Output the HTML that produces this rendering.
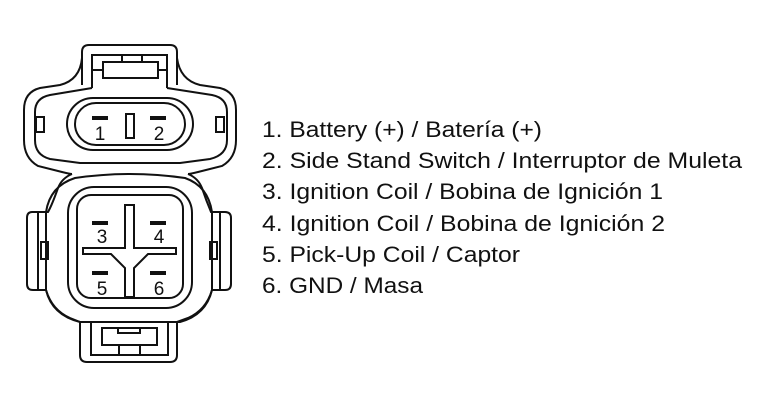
<!DOCTYPE html>
<html><head><meta charset="utf-8"><style>
html,body{margin:0;padding:0;background:#fff;}
svg{display:block;}
text{font-family:"Liberation Sans",Arial,sans-serif;fill:#111;}
</style></head><body>
<svg width="770" height="401" viewBox="0 0 770 401" xmlns="http://www.w3.org/2000/svg">
<g fill="none" stroke="#111" stroke-width="2">
<path d="M82,85 L82,52 Q82,45 89,45 L170,45 Q177,45 177,52 L177,85"/>
<path d="M92,88 L92,55 L167,55 L167,88"/>
<rect x="103" y="62" width="55" height="16"/>
<line x1="122" y1="55" x2="122" y2="62"/><line x1="142" y1="55" x2="142" y2="62"/>
<line x1="92" y1="70" x2="103" y2="70"/><line x1="158" y1="70" x2="167" y2="70"/>
<path d="M82,58 Q80,80 60,85 L40,88 Q24,92 24,110 L24,140 Q24,158 38,166 L62,172 Q70,174 72,174"/>
<path d="M177,58 Q180,80 200,85 L220,88 Q236,92 236,110 L236,140 Q236,158 222,166 L198,172 Q190,174 188,174"/>
<path d="M92,88 L50,95 Q35,98 35,112 L35,140 Q35,155 50,159 L80,163 L180,163 L210,159 Q227,155 227,140 L227,112 Q227,98 212,95 L167,88"/>
<rect x="67" y="98" width="126" height="52" rx="26"/>
<rect x="75" y="103" width="110" height="42" rx="21"/>
<rect x="126" y="114" width="8" height="24"/>
<rect x="36" y="117" width="8" height="15"/>
<rect x="216" y="117" width="8" height="15"/>
<path d="M72,174 Q62,178 58,188 Q52,205 48,212 L32,212 Q27,212 27,218 L27,284 Q27,290 33,290 L46,290 Q52,310 70,318 L80,322 L80,355 Q80,362 87,362 L170,362 Q177,362 177,355 L177,322 L188,318 Q206,310 212,290 L225,290 Q231,290 231,284 L231,218 Q231,212 225,212 L211,212 Q206,200 202,188 Q198,178 188,174"/>
<path d="M75,178 Q130,170 185,178 Q208,186 212,212 L212,290 Q206,315 180,322 L80,322 Q52,315 46,290 L46,212 Q50,186 75,178 Z"/>
<path d="M46,212 L38,212 L38,290 L46,290 M212,212 L220,212 L220,290 L212,290"/>
<rect x="41" y="242" width="7" height="17"/>
<rect x="210" y="242" width="7" height="17"/>
<rect x="68" y="187" width="124" height="121" rx="26"/>
<rect x="77" y="195" width="106" height="103" rx="14"/>
<path d="M125,205 L134,205 L134,248 L176,248 L176,254 L148,254 L134,268 L134,297 L125,297 L125,268 L111,254 L83,254 L83,248 L125,248 Z"/>
<rect x="102" y="328" width="55" height="17"/>
<rect x="118" y="328" width="22" height="5"/>
<line x1="119" y1="345" x2="119" y2="355"/><line x1="140" y1="345" x2="140" y2="355"/>
<path d="M91,322 L91,355 L168,355 L168,322"/>
</g>
<g fill="#111">
<rect x="92" y="116" width="16" height="4"/><rect x="150" y="116" width="16" height="4"/>
<rect x="92" y="221" width="16" height="4"/><rect x="150" y="221" width="16" height="4"/>
<rect x="92" y="271" width="16" height="4"/><rect x="150" y="271" width="16" height="4"/>
</g>
<g font-size="19" text-anchor="middle">
<text x="100" y="140">1</text><text x="159" y="140">2</text>
<text x="102" y="243">3</text><text x="159" y="243">4</text>
<text x="102" y="295">5</text><text x="159" y="295">6</text>
</g>
<g font-size="22">
<text x="262" y="137" textLength="280" lengthAdjust="spacingAndGlyphs">1. Battery (+) / Batería (+)</text>
<text x="262" y="168" textLength="480" lengthAdjust="spacingAndGlyphs">2. Side Stand Switch / Interruptor de Muleta</text>
<text x="262" y="199" textLength="401" lengthAdjust="spacingAndGlyphs">3. Ignition Coil / Bobina de Ignición 1</text>
<text x="262" y="231" textLength="403" lengthAdjust="spacingAndGlyphs">4. Ignition Coil / Bobina de Ignición 2</text>
<text x="262" y="262" textLength="258" lengthAdjust="spacingAndGlyphs">5. Pick-Up Coil / Captor</text>
<text x="262" y="293" textLength="161" lengthAdjust="spacingAndGlyphs">6. GND / Masa</text>
</g>
</svg>
</body></html>
